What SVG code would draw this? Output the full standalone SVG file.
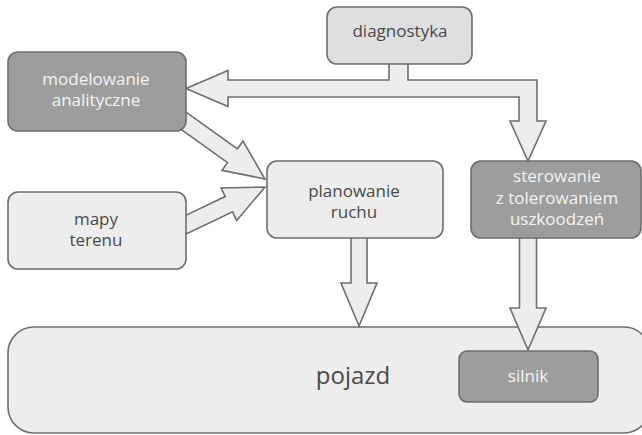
<svg xmlns="http://www.w3.org/2000/svg" width="642" height="435" viewBox="0 0 642 435">
<style>
.lt{fill:#ecedec;stroke:#6e6e6e;stroke-width:1.6}
.dk{fill:#9d9d9d;stroke:#6e6e6e;stroke-width:1.6}
.md{fill:#dedfe0;stroke:#6e6e6e;stroke-width:1.6}
.ar{fill:#ecedec;stroke:#6e6e6e;stroke-width:1.6;stroke-linejoin:miter}
text{font-family:"Open Sans","Liberation Sans",sans-serif;font-weight:400;font-size:17px;text-anchor:middle}
.tl{fill:#4a4a4a}
.td{fill:#f3f3f3}
</style>
<rect width="642" height="435" fill="#fff"/>
<g id="pojazd">
<rect class="lt" x="8" y="327" width="642" height="106" rx="26"/>
<text class="tl" x="353" y="384" style="font-size:24px">pojazd</text>
</g>
<g id="connectors">
<polygon class="ar" points="389,55 389,80 228,80 228,70.5 186,88.5 228,106.5 228,97 519,97 519,121 510,121 528,161 546,121 537,121 537,80 408,80 408,55"/>
<polygon class="ar" transform="translate(265,179) rotate(35.6)" points="-110,-8.5 -40,-8.5 -40,-18 0,0 -40,18 -40,8.5 -110,8.5"/>
<polygon class="ar" transform="translate(265,187) rotate(-25.5)" points="-100,-8.5 -40,-8.5 -40,-18 0,0 -40,18 -40,8.5 -100,8.5"/>
<polygon class="ar" transform="translate(359,326) rotate(90)" points="-96,-8 -43,-8 -43,-18 0,0 -43,18 -43,8 -96,8"/>
<polygon class="ar" transform="translate(528,350) rotate(90)" points="-120,-8.5 -42,-8.5 -42,-18 0,0 -42,18 -42,8.5 -120,8.5"/>
</g>
<g id="diagnostyka">
<rect class="md" x="327" y="7" width="145" height="57" rx="10"/>
<text class="tl" x="400" y="37">diagnostyka</text>
</g>
<g id="modelowanie">
<rect class="dk" x="8" y="52" width="178" height="79" rx="10"/>
<text class="td" x="96" y="85">modelowanie</text>
<text class="td" x="96" y="106">analityczne</text>
</g>
<g id="mapy">
<rect class="lt" x="8" y="192" width="178" height="77" rx="10"/>
<text class="tl" x="96" y="225">mapy</text>
<text class="tl" x="96" y="246">terenu</text>
</g>
<g id="planowanie">
<rect class="lt" x="267" y="161" width="176" height="77" rx="10"/>
<text class="tl" x="354" y="197">planowanie</text>
<text class="tl" x="354" y="218">ruchu</text>
</g>
<g id="sterowanie">
<rect class="dk" x="471" y="161" width="170" height="77" rx="10"/>
<text class="td" x="557" y="182">sterowanie</text>
<text class="td" x="557" y="204">z tolerowaniem</text>
<text class="td" x="557" y="225">uszkoodzeń</text>
</g>
<g id="silnik">
<rect class="dk" x="459" y="351" width="139" height="51" rx="8"/>
<text class="td" x="528" y="382">silnik</text>
</g>
</svg>
